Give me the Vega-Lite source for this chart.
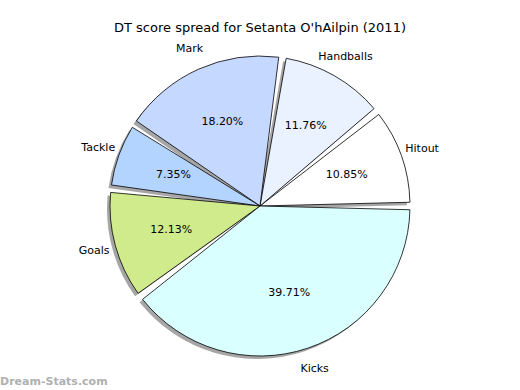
{
  "$schema": "https://vega.github.io/schema/vega-lite/v6.json",
  "padding": {"left": 0, "right": 0, "top": 22, "bottom": 0},
  "background": "#ffffff",
  "title": {"text": "DT score spread for Setanta O'hAilpin (2011)", "font": "DejaVu Sans", "fontSize": 13, "fontWeight": "normal", "color": "#000000", "offset": 6, "anchor": "middle"},
  "config": {"view": {"stroke": null}, "concat": {"spacing": 0}},
  "data": {"values": [
    {"i": 1, "cat": "Hitout", "frac": 0.1085},
    {"i": 2, "cat": "Handballs", "frac": 0.1176},
    {"i": 3, "cat": "Mark", "frac": 0.1820},
    {"i": 4, "cat": "Tackle", "frac": 0.0735},
    {"i": 5, "cat": "Goals", "frac": 0.1213},
    {"i": 6, "cat": "Kicks", "frac": 0.3971}
  ]},
  "vconcat": [{
    "width": 520,
    "height": 330,
    "title": {"text": "Dream-Stats.com", "orient": "bottom", "anchor": "start", "frame": "group", "font": "DejaVu Sans", "fontSize": 11, "fontWeight": "bold", "color": "#b0b0b0", "offset": 2},
    "encoding": {
      "theta": {"field": "frac", "type": "quantitative", "stack": true, "scale": {"range": [1.5708, -4.7124]}},
      "order": {"field": "i", "type": "quantitative"}
    },
    "layer": [
      {
        "mark": {"type": "arc", "outerRadius": 150, "padAngle": 0.05, "fill": "#888888", "opacity": 0.75, "xOffset": -3, "yOffset": 3},
        "encoding": {}
      },
      {
        "mark": {"type": "arc", "outerRadius": 150, "padAngle": 0.05, "stroke": "#000000", "strokeWidth": 0.8},
        "encoding": {
          "color": {"field": "cat", "type": "nominal", "legend": null, "sort": null,
            "scale": {"domain": ["Hitout", "Handballs", "Mark", "Tackle", "Goals", "Kicks"],
                      "range": ["#ffffff", "#eaf1ff", "#c5d8ff", "#b3d4ff", "#cfeb8b", "#d9ffff"]}}
        }
      },
      {
        "mark": {"type": "text", "radius": 92, "font": "DejaVu Sans", "fontSize": 11, "color": "#000000"},
        "encoding": {"text": {"field": "frac", "type": "quantitative", "format": ".2%"}}
      },
      {
        "mark": {"type": "text", "radius": 172, "font": "DejaVu Sans", "fontSize": 11, "color": "#000000"},
        "encoding": {"text": {"field": "cat", "type": "nominal"}}
      }
    ]
  }]
}
